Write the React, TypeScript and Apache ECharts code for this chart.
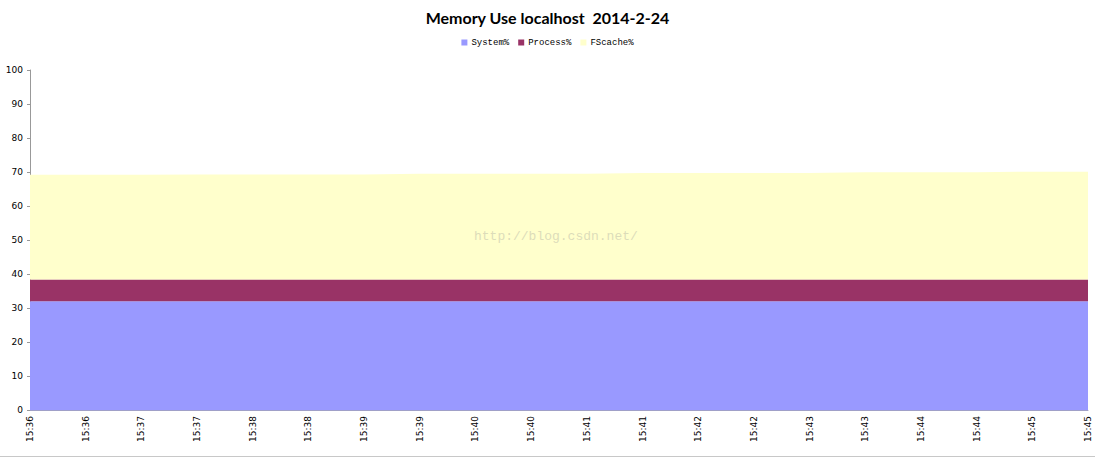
import React, { useEffect, useRef } from "react";
import * as echarts from "echarts";

const categories = [
  "15:36", "15:36", "15:37", "15:37", "15:38", "15:38", "15:39", "15:39", "15:40", "15:40",
  "15:41", "15:41", "15:42", "15:42", "15:43", "15:43", "15:44", "15:44", "15:45", "15:45",
];
const systemPct = [
  32.0, 32.0, 32.0, 32.0, 32.0, 32.0, 32.0, 32.0, 32.0, 32.0,
  32.0, 32.0, 32.0, 32.0, 32.0, 32.0, 32.0, 32.0, 32.0, 32.0,
];
const processPct = [
  6.4, 6.4, 6.4, 6.4, 6.4, 6.4, 6.4, 6.4, 6.4, 6.4,
  6.4, 6.4, 6.4, 6.4, 6.4, 6.4, 6.4, 6.4, 6.4, 6.4,
];
const fscachePct = [
  30.8, 30.8, 30.8, 30.9, 30.9, 30.9, 30.9, 31.1, 31.1, 31.1,
  31.1, 31.3, 31.3, 31.3, 31.3, 31.5, 31.5, 31.5, 31.7, 31.7,
];
const yTicks = { min: 0, max: 100, interval: 10 };

export default function App() {
  const ref = useRef<HTMLDivElement>(null);
  useEffect(() => {
    const chart = echarts.init(ref.current!, null, { renderer: "svg" });
    const axisFont = { fontFamily: "DejaVu Sans", fontSize: 9, color: "#000" };
    chart.setOption({
      animation: false,
      backgroundColor: "#fff",
      title: {
        text: "Memory Use localhost  2014-2-24",
        left: "center",
        top: 4,
        textStyle: { fontFamily: "Lato", fontWeight: "bold", fontSize: 16, color: "#000" },
      },
      legend: {
        top: 33,
        left: "center",
        itemWidth: 6,
        itemHeight: 6,
        itemGap: 9,
        icon: "rect",
        textStyle: { fontFamily: "Liberation Mono", fontSize: 9, color: "#000", padding: [0, 0, 0, -1] },
        data: ["System%", "Process%", "FScache%"],
      },
      grid: { left: 30, right: 7, top: 70, bottom: 48 },
      xAxis: {
        type: "category",
        data: categories,
        boundaryGap: false,
        axisLine: { lineStyle: { color: "#a0a0c8", width: 1 } },
        axisTick: { show: false },
        axisLabel: { ...axisFont, rotate: 90, interval: 0, margin: 6 },
        splitLine: { show: false },
      },
      yAxis: {
        type: "value",
        min: yTicks.min,
        max: yTicks.max,
        interval: yTicks.interval,
        axisLine: { show: true, lineStyle: { color: "#999", width: 1 } },
        axisTick: { show: true, length: 3, lineStyle: { color: "#999" } },
        axisLabel: { ...axisFont, margin: 7 },
        splitLine: { show: false },
      },
      series: [
        {
          name: "System%",
          type: "line",
          stack: "mem",
          data: systemPct,
          symbol: "none",
          color: "#9999FF",
          lineStyle: { width: 0 },
          areaStyle: { color: "#9999FF", opacity: 1 },
        },
        {
          name: "Process%",
          type: "line",
          stack: "mem",
          data: processPct,
          symbol: "none",
          color: "#993366",
          lineStyle: { width: 0 },
          areaStyle: { color: "#993366", opacity: 1 },
        },
        {
          name: "FScache%",
          type: "line",
          stack: "mem",
          data: fscachePct,
          symbol: "none",
          color: "#FFFFCC",
          lineStyle: { width: 0 },
          areaStyle: { color: "#FFFFCC", opacity: 1 },
        },
      ],
      graphic: [
        {
          type: "text",
          left: 474,
          top: 230,
          z: 100,
          style: {
            text: "http://blog.csdn.net/",
            fontFamily: "Liberation Mono",
            fontSize: 13,
            fill: "rgba(190,190,170,0.55)",
          },
        },
        {
          type: "line",
          shape: { x1: 0, y1: 456.5, x2: 1095, y2: 456.5 },
          style: { stroke: "#c8c8c8", lineWidth: 1 },
        },
      ],
    });
    return () => chart.dispose();
  }, []);
  return (
    <div
      ref={ref}
      style={{ position: "fixed", left: 0, top: 0, width: 1095, height: 458 }}
    />
  );
}
